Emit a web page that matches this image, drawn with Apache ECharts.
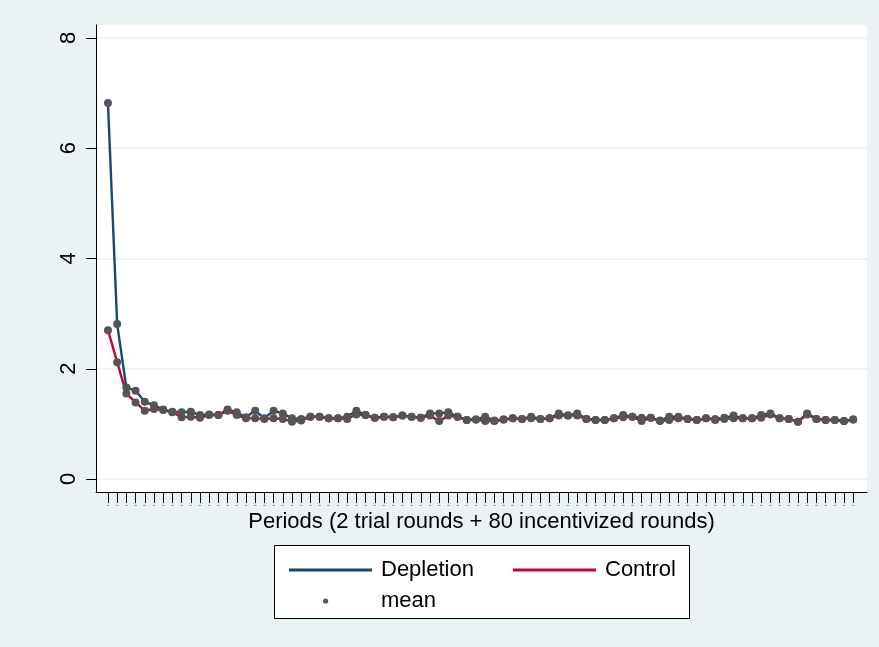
<!DOCTYPE html>
<html>
<head>
<meta charset="utf-8">
<script src="https://cdn.jsdelivr.net/npm/echarts@6/dist/echarts.min.js"></script>
<style>
html,body{margin:0;padding:0;background:#eaf2f3;}
#chart{width:879px;height:647px;}
</style>
</head>
<body>
<div id="chart"></div>
<script>
const depletion = [6.82,2.81,1.66,1.60,1.40,1.34,1.26,1.22,1.21,1.22,
1.16,1.17,1.16,1.26,1.21,1.12,1.24,1.10,1.24,1.19,
1.10,1.09,1.13,1.13,1.10,1.10,1.13,1.24,1.16,1.11,
1.13,1.12,1.15,1.13,1.11,1.19,1.19,1.21,1.13,1.07,
1.08,1.13,1.06,1.08,1.10,1.09,1.13,1.09,1.10,1.19,
1.15,1.19,1.09,1.07,1.07,1.10,1.16,1.13,1.11,1.11,
1.06,1.13,1.13,1.09,1.07,1.10,1.09,1.11,1.15,1.10,
1.10,1.16,1.19,1.10,1.09,1.04,1.19,1.09,1.07,1.07,
1.05,1.08];
const control = [2.70,2.12,1.55,1.39,1.24,1.27,1.25,1.21,1.12,1.13,
1.11,1.16,1.16,1.24,1.16,1.10,1.10,1.09,1.10,1.09,
1.04,1.06,1.13,1.13,1.10,1.10,1.09,1.17,1.16,1.11,
1.13,1.12,1.15,1.13,1.11,1.15,1.05,1.15,1.13,1.07,
1.08,1.05,1.05,1.08,1.10,1.09,1.10,1.09,1.10,1.15,
1.15,1.15,1.09,1.07,1.07,1.10,1.12,1.13,1.05,1.11,
1.05,1.07,1.10,1.09,1.07,1.10,1.07,1.09,1.10,1.10,
1.10,1.11,1.17,1.10,1.09,1.04,1.17,1.09,1.07,1.07,
1.05,1.08];
const periods = depletion.map((v, i) => i + 1);
const yTicks = [0, 2, 4, 6, 8];
const xTitle = 'Periods (2 trial rounds + 80 incentivized rounds)';

const FONT = '"Liberation Sans", Arial, sans-serif';
const chart = echarts.init(document.getElementById('chart'), null, {renderer: 'canvas'});

const depData = periods.map((p, i) => [p, depletion[i]]);
const conData = periods.map((p, i) => [p, control[i]]);
const meanData = depData.concat(conData);

const legendText = {fontSize: 22, color: '#000', padding: [0, 0, 0, 4], fontFamily: FONT};
const dotIcon = 'path://M0,3L0.01,3ZM83,3L82.99,3ZM34,3A2.6,2.6 0 1,1 39.2,3A2.6,2.6 0 1,1 34,3Z';

chart.setOption({
  backgroundColor: '#eaf2f3',
  animation: false,
  textStyle: {fontFamily: FONT},
  grid: {left: 96, top: 25, right: 12, bottom: 155, show: true, backgroundColor: '#ffffff', borderWidth: 0},
  xAxis: {
    type: 'value', min: -0.3, max: 83.5,
    axisLine: {show: true, onZero: false, lineStyle: {color: '#000', width: 1}},
    axisTick: {show: true, length: 11, customValues: periods, lineStyle: {color: '#000'}},
    axisLabel: {show: true, customValues: periods, formatter: () => '-', color: '#8a8a8a', fontSize: 10, margin: 8},
    splitLine: {show: false},
    name: xTitle, nameLocation: 'middle', nameGap: 19, nameMoveOverlap: false,
    nameTextStyle: {fontSize: 22, color: '#000', fontFamily: FONT}
  },
  yAxis: {
    type: 'value', min: -0.2358, max: 8.2358,
    axisLine: {show: true, onZero: false, lineStyle: {color: '#000', width: 1}},
    axisTick: {show: true, length: 10, customValues: yTicks, lineStyle: {color: '#000'}},
    axisLabel: {show: true, customValues: yTicks, rotate: 90, fontSize: 22, color: '#000', margin: 16, fontFamily: FONT},
    splitLine: {show: true, lineStyle: {color: '#eaf2f3', width: 1.5}}
  },
  legend: [
    {data: [{name: 'Depletion', icon: 'rect'}], left: 284, top: 554, itemWidth: 83, itemHeight: 3,
     textStyle: legendText, selectedMode: false},
    {data: [{name: 'Control', icon: 'rect'}], left: 508, top: 554, itemWidth: 83, itemHeight: 3,
     textStyle: legendText, selectedMode: false},
    {data: [{name: 'mean', icon: dotIcon}], left: 284, top: 585, itemWidth: 83, itemHeight: 6,
     textStyle: legendText, selectedMode: false}
  ],
  graphic: [
    {type: 'rect', left: 274, top: 545, z: -1, shape: {width: 415, height: 73},
     style: {fill: '#ffffff', stroke: '#000', lineWidth: 1}}
  ],
  series: [
    {name: 'Depletion', type: 'line', data: depData, showSymbol: false, symbol: 'none',
     lineStyle: {color: '#1a476f', width: 2.4}, itemStyle: {color: '#1a476f'}, z: 2},
    {name: 'Control', type: 'line', data: conData, showSymbol: false, symbol: 'none',
     lineStyle: {color: '#c10534', width: 2.4}, itemStyle: {color: '#c10534'}, z: 3},
    {name: 'mean', type: 'scatter', data: meanData, symbol: 'circle', symbolSize: 8,
     itemStyle: {color: '#555555', opacity: 1}, z: 4}
  ]
});
</script>
</body>
</html>
